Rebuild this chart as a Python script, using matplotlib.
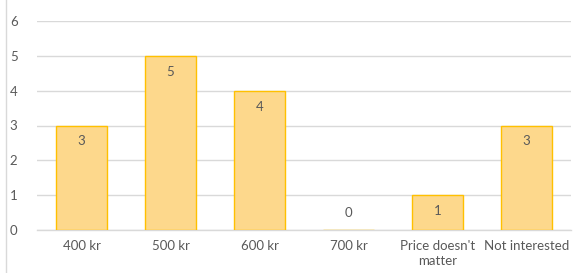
import matplotlib
matplotlib.use("Agg")
import matplotlib.pyplot as plt
from matplotlib.lines import Line2D

categories = ["400 kr", "500 kr", "600 kr", "700 kr", "Price doesn't\nmatter", "Not interested"]
values = [3, 5, 4, 0, 1, 3]
yticks = [0, 1, 2, 3, 4, 5, 6]

plt.rcParams['font.family'] = ['Lato', 'DejaVu Sans']
fig = plt.figure(figsize=(5.76, 2.73), dpi=100)
ax = fig.add_axes([37/576, 1-230/273, 534/576, (230-21)/273])

x = list(range(len(categories)))
ax.bar(x, values, width=0.575, color='#FDD88C', edgecolor='#FFC000', linewidth=1.0, zorder=3)
ax.set_xlim(-0.5, len(categories)-0.5)
ax.set_ylim(0, 6)
ax.set_yticks(yticks)
ax.set_xticks(x)
ax.set_xticklabels(categories, fontsize=9.5, color='#595959', linespacing=1.3)
ax.tick_params(axis='y', labelsize=9.5, labelcolor='#595959', length=0, pad=14)
ax.tick_params(axis='x', length=0, pad=7)
ax.grid(axis='y', color='#D9D9D9', linewidth=1.0, zorder=0)
for s in ['top', 'right', 'left']:
    ax.spines[s].set_visible(False)
ax.spines['bottom'].set_color('#D9D9D9')
ax.spines['bottom'].set_linewidth(1.0)

for xi, v in zip(x, values):
    off = -11.5 if v > 0 else 12
    ax.annotate(str(v), (xi, v), xytext=(0, off), textcoords='offset points',
                ha='center', va='center', fontsize=9.5, color='#595959', zorder=4)

fig.add_artist(Line2D([6/576, 6/576], [0, 1], color='#D9D9D9', linewidth=1.0))

fig.savefig("out.png", dpi=100)
